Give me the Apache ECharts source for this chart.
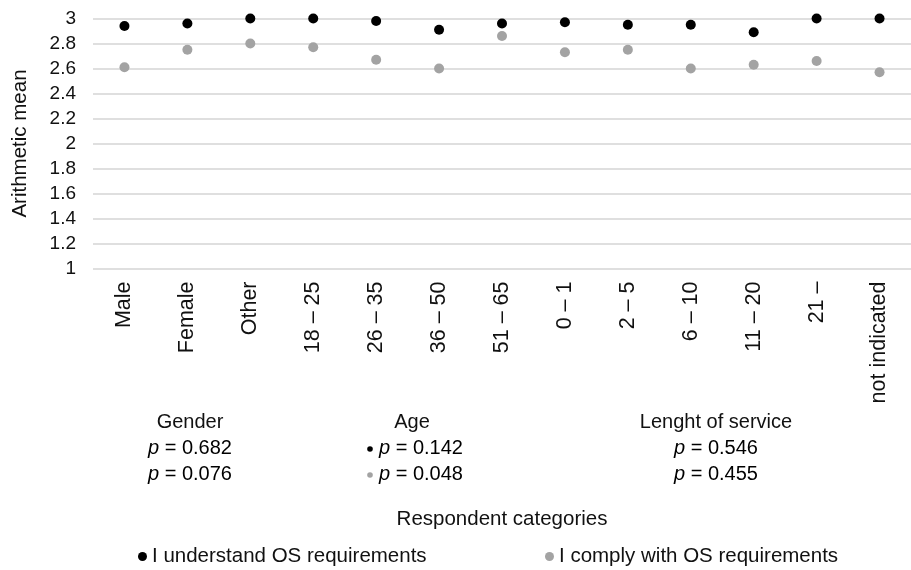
<!DOCTYPE html>
<html>
<head>
<meta charset="utf-8">
<script src="https://cdn.jsdelivr.net/npm/echarts@6/dist/echarts.min.js"></script>
<style>
html,body{margin:0;padding:0;background:#fff;}
#c{width:911px;height:570px;}
</style>
</head>
<body>
<div id="c"></div>
<script>
const categories = ['Male','Female','Other','18 \u2013 25','26 \u2013 35','36 \u2013 50','51 \u2013 65','0 \u2013 1','2 \u2013 5','6 \u2013 10','11 \u2013 20','21 \u2013','not indicated'];
const understandValues = [2.94,2.96,3.00,3.00,2.98,2.91,2.96,2.97,2.95,2.95,2.89,3.00,3.00];
const complyValues = [2.61,2.75,2.80,2.77,2.67,2.60,2.86,2.73,2.75,2.60,2.63,2.66,2.57];
const seriesNames = ['I understand OS requirements','I comply with OS requirements'];
const yTicks = {min:1, max:3, interval:0.2};
const groupTitles = ['Gender','Age','Lenght of service'];
const groupPUnderstand = ['0.682','0.142','0.546'];
const groupPComply = ['0.076','0.048','0.455'];

const FONT = '"Liberation Sans", Arial, sans-serif';
const TXT = '#111111';
const BLACK = '#000000';
const GRAY = '#a3a3a3';

const chart = echarts.init(document.getElementById('c'));

const groupX = [190, 421, 716];
const rich = {
  i: {fontStyle:'italic', fontFamily:FONT, fontSize:20, color:TXT},
  n: {fontFamily:FONT, fontSize:20, color:TXT}
};
const graphics = [];
groupTitles.forEach((t, k) => {
  graphics.push({type:'text', x:k===1 ? 412 : groupX[k], y:422,
    style:{text:t, font:'20px ' + FONT, fill:TXT, align:'center', verticalAlign:'middle'}});
  graphics.push({type:'text', x:groupX[k], y:448,
    style:{text:'{i|p}{n| = ' + groupPUnderstand[k] + '}', rich:rich, align:'center', verticalAlign:'middle'}});
  graphics.push({type:'text', x:groupX[k], y:474,
    style:{text:'{i|p}{n| = ' + groupPComply[k] + '}', rich:rich, align:'center', verticalAlign:'middle'}});
});
graphics.push({type:'circle', shape:{cx:370, cy:449, r:2.8}, style:{fill:BLACK}});
graphics.push({type:'circle', shape:{cx:370, cy:475, r:2.8}, style:{fill:GRAY}});

chart.setOption({
  animation:false,
  backgroundColor:'#fff',
  grid:{left:93, top:18.5, width:827, height:250, containLabel:false},
  xAxis:{
    type:'category',
    data:categories,
    boundaryGap:true,
    axisLine:{show:false},
    axisTick:{show:false},
    axisLabel:{rotate:90, margin:13, fontFamily:FONT, fontSize:21.5, color:TXT, interval:0},
    name:'Respondent categories',
    nameLocation:'middle',
    nameGap:240,
    nameTextStyle:{fontFamily:FONT, fontSize:20.5, color:TXT}
  },
  yAxis:{
    type:'value',
    min:yTicks.min, max:yTicks.max, interval:yTicks.interval,
    axisLine:{show:false},
    axisTick:{show:false},
    splitLine:{lineStyle:{color:'#d4d4d4', width:1.5}},
    axisLabel:{margin:17, fontFamily:FONT, fontSize:19, color:TXT,
      formatter:v => String(parseFloat(v.toFixed(1)))},
    name:'Arithmetic mean',
    nameLocation:'middle',
    nameGap:62,
    nameTextStyle:{fontFamily:FONT, fontSize:20.5, color:TXT}
  },
  legend:[
    {data:[seriesNames[0]], left:133, top:541, icon:'circle', itemWidth:9, itemHeight:9, itemGap:0,
      textStyle:{fontFamily:FONT, fontSize:20.5, color:TXT}},
    {data:[seriesNames[1]], left:540, top:541, icon:'circle', itemWidth:9, itemHeight:9, itemGap:0,
      textStyle:{fontFamily:FONT, fontSize:20.5, color:TXT}}
  ],
  series:[
    {name:seriesNames[0], type:'scatter', data:understandValues, symbol:'circle', symbolSize:10,
      itemStyle:{color:BLACK, opacity:1}, z:3},
    {name:seriesNames[1], type:'scatter', data:complyValues, symbol:'circle', symbolSize:10,
      itemStyle:{color:GRAY, opacity:1}, z:2}
  ],
  graphic:graphics
});
</script>
</body>
</html>
